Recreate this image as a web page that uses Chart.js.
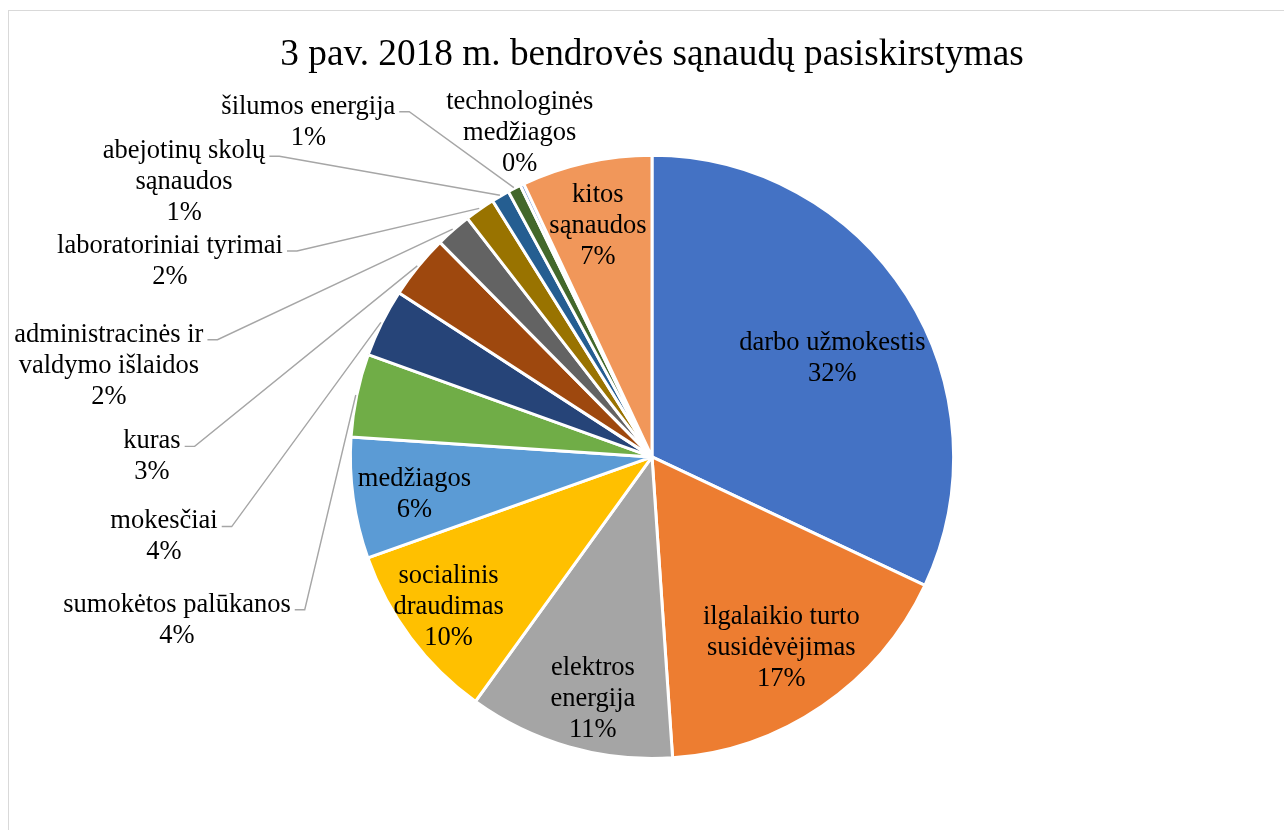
<!DOCTYPE html>
<html>
<head>
<meta charset="utf-8">
<script src="https://cdn.jsdelivr.net/npm/chart.js@4.4.1/dist/chart.umd.min.js"></script>
<style>
    body { margin: 0; background: #fff; overflow: hidden; }
    #box {
        position: absolute;
        left: 8px;
        top: 10px;
        border-left: 1px solid #d9d9d9;
        border-top: 1px solid #d9d9d9;
    }
</style>
</head>
<body>
<div id="box"><canvas id="costChart" width="1286" height="820"></canvas></div>
<script>
// Data (shares of total costs, %)
const categories = [
    'darbo užmokestis',
    'ilgalaikio turto\nsusidėvėjimas',
    'elektros\nenergija',
    'socialinis\ndraudimas',
    'medžiagos',
    'sumokėtos palūkanos',
    'mokesčiai',
    'kuras',
    'administracinės ir\nvaldymo išlaidos',
    'laboratoriniai tyrimai',
    'abejotinų skolų\nsąnaudos',
    'šilumos energija',
    'technologinės\nmedžiagos',
    'kitos\nsąnaudos'
];
const shares = [31.6, 16.7, 10.9, 9.5, 6.4, 4.4, 3.6, 3.4, 1.9, 1.6, 0.95, 0.7, 0.2, 6.9];
const colors = [
    '#4472C4', '#ED7D31', '#A5A5A5', '#FFC000', '#5B9BD5', '#70AD47', '#264478',
    '#9E480E', '#636363', '#997300', '#255E91', '#43682B', '#698ED0', '#F1975A'
];

// Label block centres as offsets from the pie centre (px at radius 301)
const labelPos = [
    [180, -98],
    [129, 191],
    [-59, 242],
    [-203, 150],
    [-237, 38],
    [-474, 163],
    [-487, 80],
    [-499, 0],
    [-542, -91],
    [-481, -195],
    [-467, -274],
    [-343, -334],
    [-132, -323],
    [-54, -230]
];
// slices whose label sits outside and gets a leader line
const leader = [5, 6, 7, 8, 9, 10, 11];

const FONT = "'Times New Roman', 'Liberation Serif', serif";

const total = shares.reduce((a, b) => a + b, 0);

// Draws the slice labels and leader lines like the Excel original
const sliceLabels = {
    id: 'sliceLabels',
    afterDatasetsDraw(chart) {
        const ctx = chart.ctx;
        const meta = chart.getDatasetMeta(0);
        const lineH = 31;

        ctx.save();
        ctx.font = '26.5px ' + FONT;
        ctx.fillStyle = '#000';
        ctx.textAlign = 'center';
        ctx.textBaseline = 'middle';

        meta.data.forEach((arc, i) => {
            const p = arc.getProps(['x', 'y', 'startAngle', 'endAngle', 'outerRadius'], true);
            const mid = (p.startAngle + p.endAngle) / 2;
            const lines = categories[i].split('\n');
            lines.push(Math.round(shares[i] / total * 100) + '%');

            const k = p.outerRadius / 301;
            const cx = p.x + labelPos[i][0] * k;
            const cy = p.y + labelPos[i][1] * k;

            const top = cy - (lines.length - 1) * lineH / 2;
            lines.forEach((t, j) => ctx.fillText(t, cx, top + j * lineH));

            // leader line from end of first text line to the slice edge
            if (leader.includes(i)) {
                const w = ctx.measureText(lines[0]).width;
                const sx = cx + w / 2 + 4;
                const sy = top + 5;
                const ex = p.x + Math.cos(mid) * (p.outerRadius + 1);
                const ey = p.y + Math.sin(mid) * (p.outerRadius + 1);
                ctx.beginPath();
                ctx.strokeStyle = '#A6A6A6';
                ctx.lineWidth = 1.4;
                ctx.moveTo(sx, sy);
                ctx.lineTo(sx + 10, sy);
                ctx.lineTo(ex, ey);
                ctx.stroke();
            }
        });
        ctx.restore();
    }
};

const ctx = document.getElementById('costChart').getContext('2d');
new Chart(ctx, {
    type: 'pie',
    data: {
        labels: categories,
        datasets: [{
            data: shares,
            backgroundColor: colors,
            borderColor: '#fff',
            borderWidth: 3
        }]
    },
    options: {
        responsive: false,
        animation: false,
        layout: { padding: { top: 0, bottom: 71, left: 0, right: 0 } },
        plugins: {
            legend: { display: false },
            tooltip: { enabled: false },
            title: {
                display: true,
                text: '3 pav. 2018 m. bendrovės sąnaudų pasiskirstymas',
                color: '#000',
                font: { family: FONT, size: 37.3, weight: 'normal', lineHeight: 1.2 },
                padding: { top: 22, bottom: 76 }
            }
        }
    },
    plugins: [sliceLabels]
});
</script>
</body>
</html>
